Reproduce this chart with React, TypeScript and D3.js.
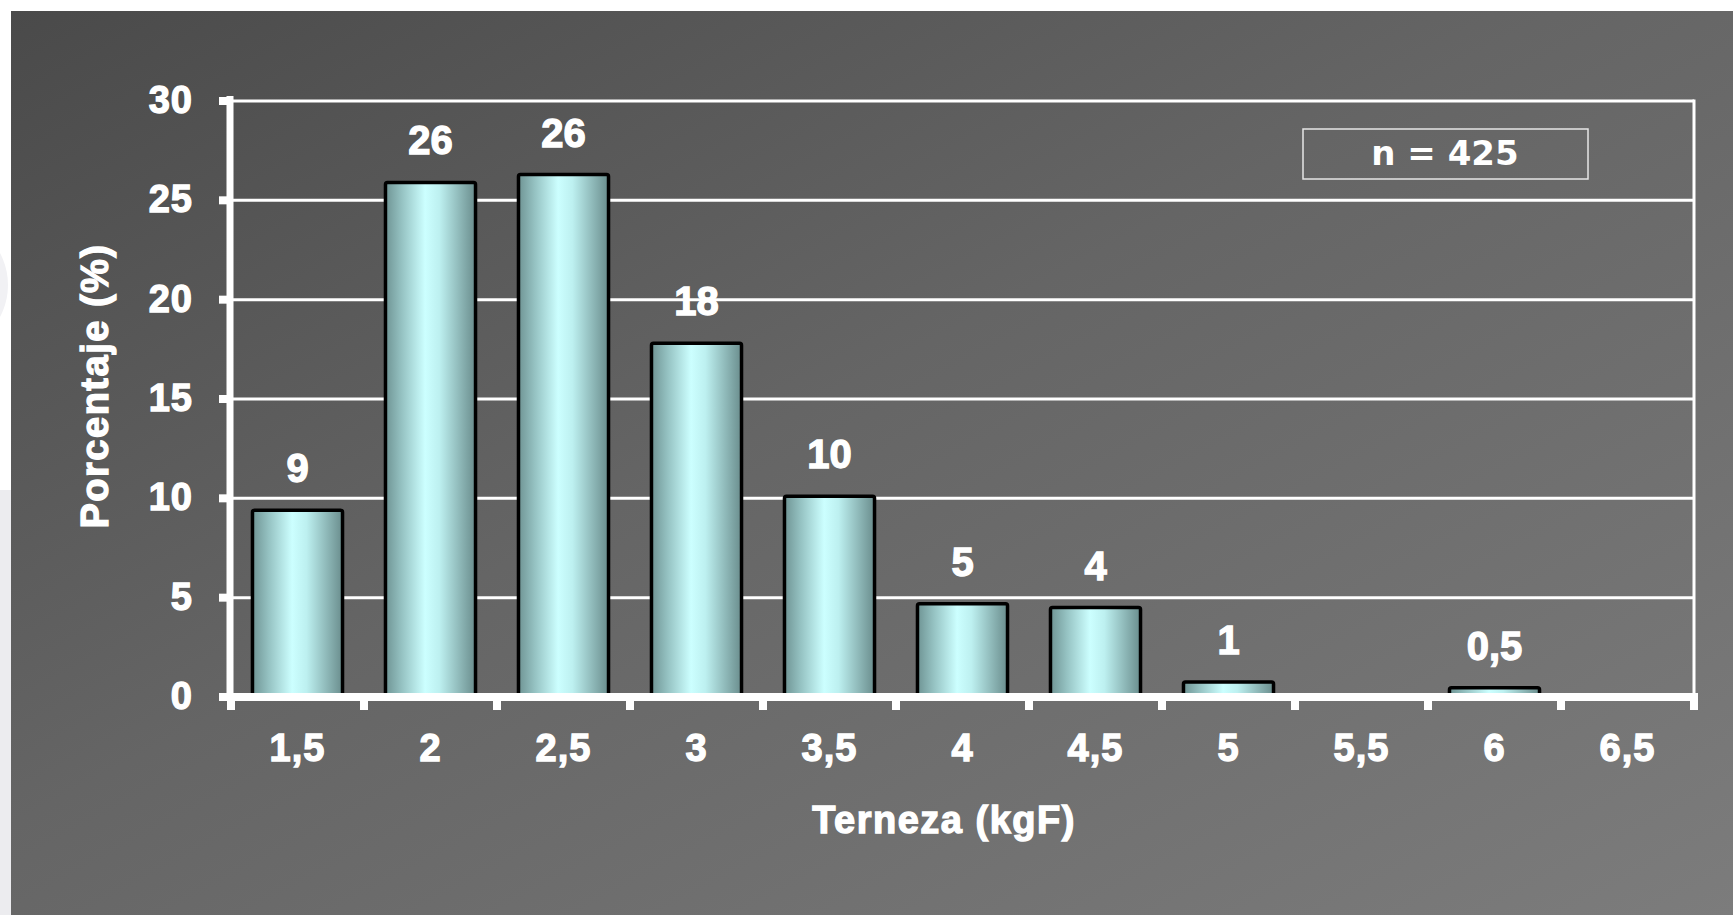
import React from "react";
import * as d3 from "d3";

const categories = ["1,5", "2", "2,5", "3", "3,5", "4", "4,5", "5", "5,5", "6", "6,5"];
const values = [9.4, 25.9, 26.3, 17.8, 10.1, 4.7, 4.5, 0.75, 0, 0.47, 0];
const valueLabels = ["9", "26", "26", "18", "10", "5", "4", "1", "", "0,5", ""];
const yTicks = [0, 5, 10, 15, 20, 25, 30];
const sampleLabel = "n = 425";
const xTitle = "Terneza (kgF)";
const yTitle = "Porcentaje (%)";

const W = 1733;
const H = 915;
const FONT = "'Liberation Sans', Arial, Helvetica, sans-serif";

const heavy = {
  fill: "#ffffff",
  stroke: "#ffffff",
  strokeWidth: 1.3,
  fontFamily: FONT,
  fontWeight: "bold" as const,
};

export default function App() {
  const left = 231;
  const right = 1694;
  const top = 101;
  const bottom = 697;

  const x = d3
    .scaleBand<string>()
    .domain(categories)
    .range([left, right])
    .paddingInner(0.323)
    .paddingOuter(0.1615);
  const y = d3.scaleLinear().domain([0, 30]).range([bottom, top]);
  const step = x.step();
  const boundaries = d3.range(categories.length + 1).map((i) => left + i * step);

  return (
    <svg
      width={W}
      height={H}
      viewBox={`0 0 ${W} ${H}`}
      style={{ position: "absolute", left: 0, top: 0, display: "block" }}
    >
      <defs>
        <linearGradient id="panel" x1="0" y1="0" x2="1" y2="1">
          <stop offset="0" stopColor="#4a4a4a" />
          <stop offset="0.45" stopColor="#656565" />
          <stop offset="1" stopColor="#7c7c7c" />
        </linearGradient>
        <linearGradient id="bar" x1="0" y1="0" x2="1" y2="0">
          <stop offset="0" stopColor="#6f9494" />
          <stop offset="0.18" stopColor="#95c2c2" />
          <stop offset="0.44" stopColor="#ccffff" />
          <stop offset="0.6" stopColor="#bdf0f0" />
          <stop offset="1" stopColor="#6a8d8d" />
        </linearGradient>
      </defs>

      {/* slide background */}
      <rect x={0} y={0} width={W} height={H} fill="#ffffff" />
      <rect x={0} y={490} width={12} height={H - 490} fill="#ececef" />
      <circle cx={-60} cy={285} r={68} fill="#f1f1f4" />
      <rect x={11} y={11} width={W - 11} height={H - 11} fill="url(#panel)" />

      {/* gridlines */}
      {yTicks
        .filter((t) => t > 0)
        .map((t) => (
          <line
            key={"g" + t}
            x1={left}
            x2={right}
            y1={y(t)}
            y2={y(t)}
            stroke="#ffffff"
            strokeWidth={3}
          />
        ))}
      {/* right border */}
      <line x1={right} x2={right} y1={top - 1.5} y2={bottom} stroke="#ffffff" strokeWidth={3} />

      {/* bars */}
      {categories.map((c, i) =>
        values[i] > 0 ? (
          <rect
            key={"b" + c}
            x={x(c)!}
            y={y(values[i])}
            width={x.bandwidth()}
            height={bottom - y(values[i])}
            fill="url(#bar)"
            stroke="#000000"
            strokeWidth={3.5}
            rx={2}
          />
        ) : null
      )}

      {/* value labels */}
      {categories.map((c, i) =>
        valueLabels[i] ? (
          <text
            key={"l" + c}
            x={x(c)! + x.bandwidth() / 2}
            y={y(values[i]) - 28}
            textAnchor="middle"
            fontSize={40}
            {...heavy}
          >
            {valueLabels[i]}
          </text>
        ) : null
      )}

      {/* y axis */}
      <line x1={left - 1} x2={left - 1} y1={top - 5} y2={bottom + 4} stroke="#ffffff" strokeWidth={7} />
      {yTicks.map((t) => (
        <g key={"yt" + t}>
          <line x1={left - 12} x2={left} y1={y(t)} y2={y(t)} stroke="#ffffff" strokeWidth={8} />
          <text
            x={193}
            y={y(t) + 12}
            textAnchor="end"
            fontSize={38}
            letterSpacing={1}
            {...heavy}
          >
            {t}
          </text>
        </g>
      ))}

      {/* x axis */}
      <line x1={left - 4} x2={right + 4} y1={bottom} y2={bottom} stroke="#ffffff" strokeWidth={8} />
      {boundaries.map((b, i) => (
        <line key={"xt" + i} x1={b} x2={b} y1={bottom} y2={bottom + 13} stroke="#ffffff" strokeWidth={8} />
      ))}
      {categories.map((c) => (
        <text
          key={"xl" + c}
          x={x(c)! + x.bandwidth() / 2}
          y={761}
          textAnchor="middle"
          fontSize={38}
          letterSpacing={1}
          {...heavy}
        >
          {c}
        </text>
      ))}

      {/* axis titles */}
      <text x={944} y={833} textAnchor="middle" fontSize={38} letterSpacing={1.5} {...heavy}>
        {xTitle}
      </text>
      <text
        transform={`translate(108, 386) rotate(-90)`}
        textAnchor="middle"
        fontSize={38}
        letterSpacing={1.5}
        {...heavy}
      >
        {yTitle}
      </text>

      {/* sample size box */}
      <rect x={1303} y={129} width={285} height={50} fill="none" stroke="#e6e6e6" strokeWidth={1.5} />
      <text
        x={1445}
        y={165}
        textAnchor="middle"
        fill="#ffffff"
        fontFamily="'DejaVu Sans', Verdana, sans-serif"
        fontWeight="bold"
        fontSize={34}
      >
        {sampleLabel}
      </text>
    </svg>
  );
}
